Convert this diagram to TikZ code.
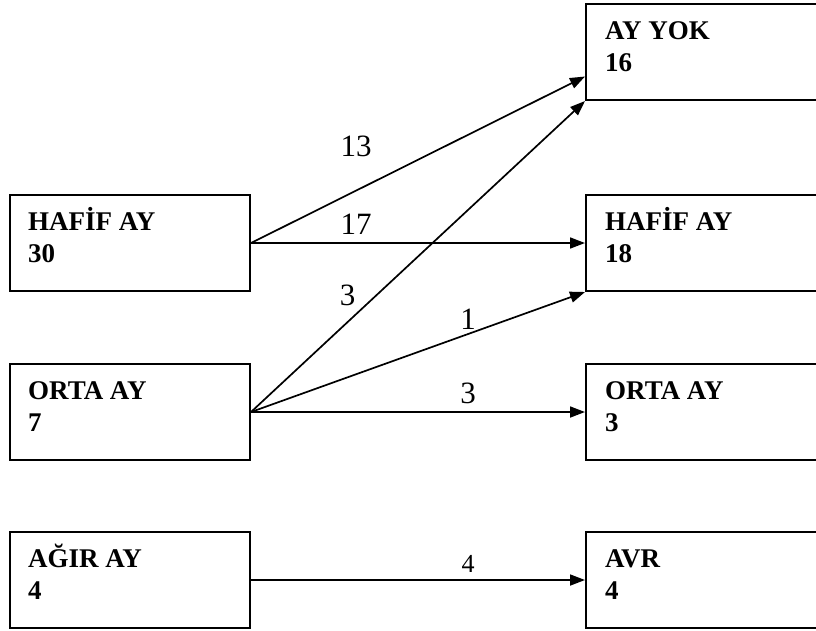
\documentclass[tikz,border=0pt]{standalone}
\usepackage{fontspec}
\setmainfont{Liberation Serif}
\usetikzlibrary{arrows.meta,calc}
\begin{document}
\begin{tikzpicture}[x=1pt,y=1pt,
  boxnode/.style={draw=black,line width=2pt,rectangle,minimum width=240pt,minimum height=96pt,inner sep=0pt,anchor=north west},
  boxtext/.style={anchor=base west,align=left,inner sep=0pt,font=\bfseries\fontsize{27}{32}\selectfont},
  flow/.style={line width=1.7pt,-{Triangle[length=15pt,width=11pt]}},
  numlabel/.style={anchor=base,inner sep=0pt,font=\fontsize{31}{31}\selectfont}]
\useasboundingbox (0,0) rectangle (816,-630);
\clip (0,0) rectangle (816,-630);
% left boxes
\node[boxnode] (hl) at (9,-194) {};
\node[boxnode] (ol) at (9,-363) {};
\node[boxnode] (al) at (9,-531) {};
% right boxes
\node[boxnode] (yr) at (585,-3) {};
\node[boxnode] (hr) at (585,-194) {};
\node[boxnode] (or) at (585,-363) {};
\node[boxnode] (vr) at (585,-531) {};
% texts (base = baseline of last line)
\node[boxtext] (thl) at ($(hl.north west)+(19,-68)$) {HAFİF AY\\30};
\node[boxtext] (tol) at ($(ol.north west)+(19,-68)$) {ORTA AY\\7};
\node[boxtext] (tal) at ($(al.north west)+(19,-68)$) {AĞIR AY\\4};
\node[boxtext] (tyr) at ($(yr.north west)+(20,-68)$) {AY YOK\\16};
\node[boxtext] (thr) at ($(hr.north west)+(20,-68)$) {HAFİF AY\\18};
\node[boxtext] (tor) at ($(or.north west)+(20,-68)$) {ORTA AY\\3};
\node[boxtext] (tvr) at ($(vr.north west)+(20,-68)$) {AVR\\4};
% connectors
\coordinate (yin) at ($(yr.west)!0.5!(yr.south west)$);
\draw[flow] (hl.east) -- (yin);
\draw[flow] (hl.east) -- (hr.west);
\draw[flow] (ol.east) -- (yr.south west);
\draw[flow] (ol.east) -- (hr.south west);
\draw[flow] (ol.east) -- (or.west);
\draw[flow] (al.east) -- (vr.west);
% labels
\node[numlabel] (l13) at (356,-156) {13};
\node[numlabel] (l17) at (356,-234) {17};
\node[numlabel] (l3a) at (347.5,-305) {3};
\node[numlabel] (l1) at (468,-329) {1};
\node[numlabel] (l3b) at (468,-403) {3};
\node[numlabel,font=\fontsize{26}{26}\selectfont] (l4) at (468,-572) {4};
\end{tikzpicture}
\end{document}
